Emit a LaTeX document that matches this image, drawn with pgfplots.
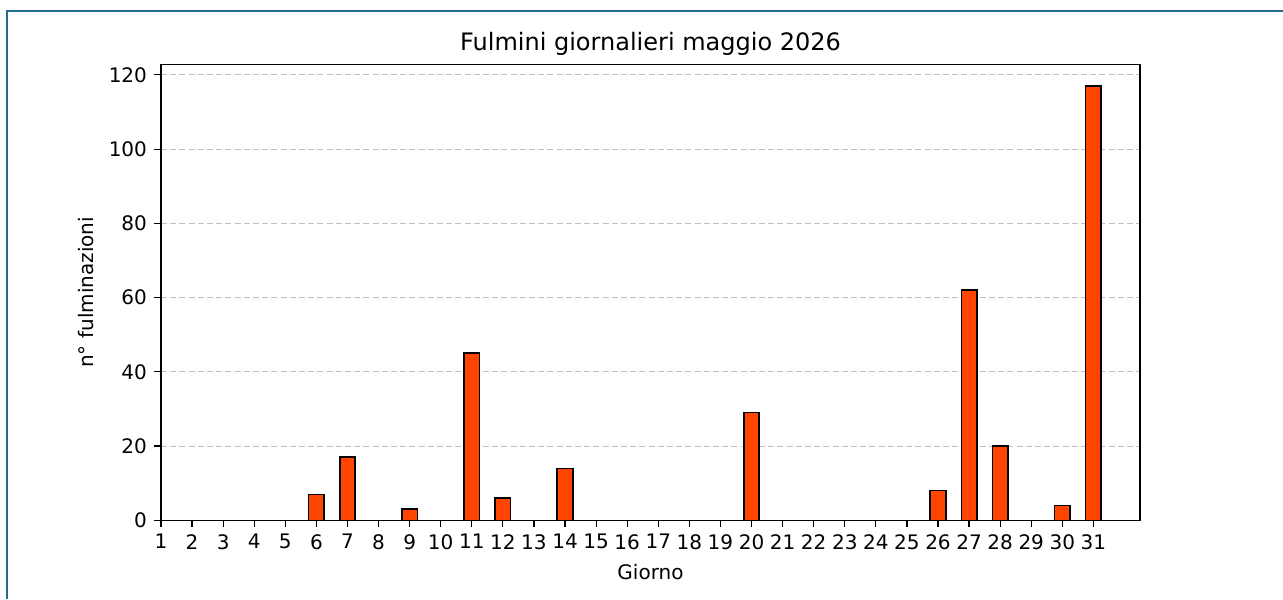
\documentclass[border=0pt]{standalone}
\usepackage{fontspec}
\setmainfont{DejaVu Sans}
\usepackage{pgfplots}
\usepackage{pgfplotstable}
\pgfplotsset{compat=1.18}

\definecolor{barfill}{RGB}{255,69,0}
\definecolor{frameblue}{RGB}{36,106,146}

% fulmini per giorno, maggio 2026
\pgfplotstableread{
giorno n
1 0
2 0
3 0
4 0
5 0
6 7
7 17
8 0
9 3
10 0
11 45
12 6
13 0
14 14
15 0
16 0
17 0
18 0
19 0
20 29
21 0
22 0
23 0
24 0
25 0
26 8
27 62
28 20
29 0
30 4
31 117
}\fulmini

\begin{document}
\begin{tikzpicture}
\path[use as bounding box] (0,0) rectangle (641.5pt,299.5pt);
\draw[frameblue, line width=1.1pt] (3.5pt,0) -- (3.5pt,294pt) -- (641.5pt,294pt);
\begin{axis}[
    at={(80.5pt,39.35pt)}, anchor=south west,
    scale only axis,
    width=489.5pt, height=228pt,
    xmin=1, xmax=32.5,
    ymin=0, ymax=122.85,
    xtick={1,...,31},
    ytick={0,20,...,120},
    xtick pos=left, ytick pos=left,
    tick align=outside,
    major tick length=3.5pt,
    tick style={black, line width=0.6pt},
    axis line style={line width=0.7pt},
    ymajorgrids,
    grid style={dash pattern=on 3pt off 1.6pt, gray!50, line width=0.5pt},
    /pgf/number format/assume math mode=true,
    ticklabel style={font=\fontsize{10}{12}\selectfont},
    every axis title shift=0pt,
    title={Fulmini giornalieri maggio 2026},
    title style={font=\fontsize{12}{14}\selectfont, at={(axis description cs:0.5,1.0445)}, anchor=center},
    xlabel={Giorno},
    xlabel style={font=\fontsize{10}{12}\selectfont, at={(axis description cs:0.5,-0.114)}, anchor=center},
    ylabel={n° fulminazioni},
    ylabel style={font=\fontsize{10}{12}\selectfont, at={(axis description cs:-0.0766,0.5)}, anchor=center},
]
\addplot[ybar, bar width=0.5, fill=barfill, draw=black, line width=0.8pt] table[x=giorno, y=n] {\fulmini};
\end{axis}
\end{tikzpicture}
\end{document}
